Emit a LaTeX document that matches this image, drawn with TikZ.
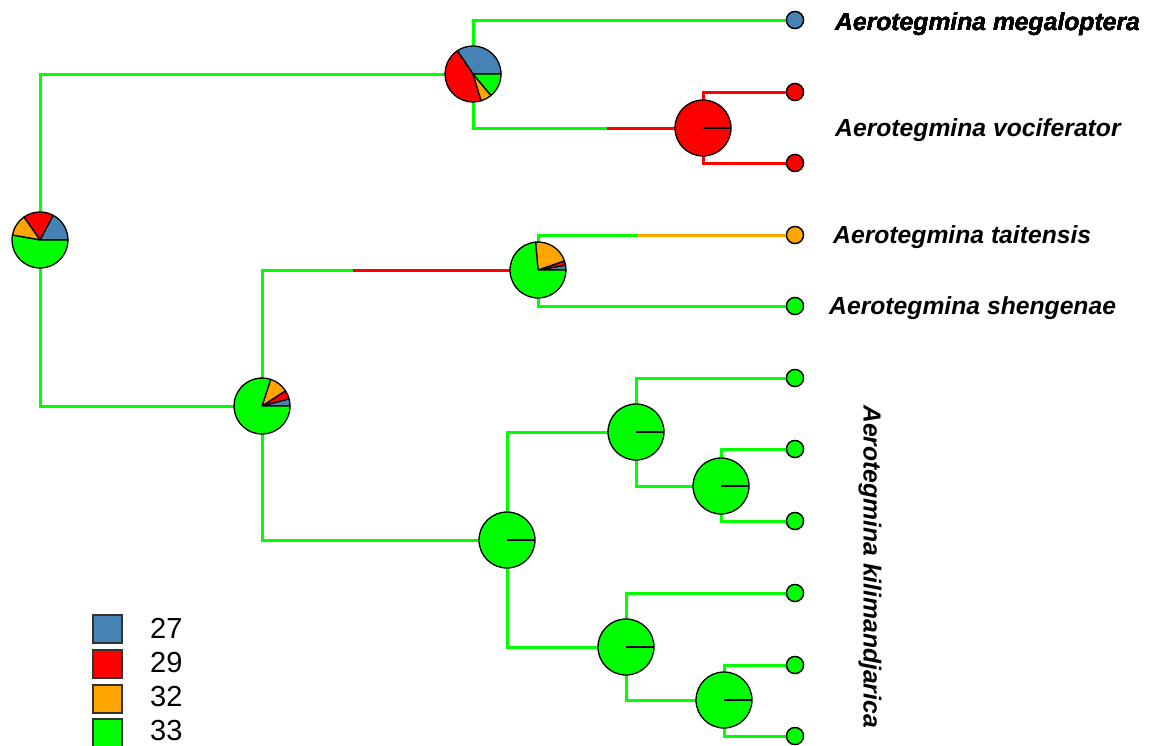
\documentclass[tikz,border=0pt]{standalone}
\usepackage{fontspec}
\setmainfont{Liberation Sans}
\definecolor{blu}{RGB}{70,130,180}
\definecolor{rosso}{RGB}{255,0,0}
\definecolor{arancio}{RGB}{255,165,0}
\definecolor{verde}{RGB}{0,255,0}
\tikzset{
  ramo/.style={line width=3pt},
  bordo/.style={draw=black,line width=1.3pt,line join=round},
  punta/.style={circle,draw=black,line width=1.3pt,minimum size=17pt,inner sep=0pt},
  etichetta/.style={font=\fontsize{24.7}{29}\selectfont\bfseries\itshape,inner sep=0pt},
  quadrato/.style={draw=black!80,line width=1.2pt,minimum width=29pt,minimum height=28pt,inner sep=0pt},
  numero/.style={font=\fontsize{29}{33}\selectfont,anchor=west,inner sep=0pt}
}
\def\raggio{28}
% spicchio: centro, inizio, fine, colore
\newcommand{\spicchio}[4]{%
  \filldraw[bordo,fill=#4] (#1) -- ++(#2:\raggio) arc[start angle=#2,end angle=#3,radius=\raggio] -- cycle;}
% torta: centro, fine blu, fine rosso, fine arancio
\newcommand{\torta}[4]{%
  \spicchio{#1}{0}{#2}{blu}
  \spicchio{#1}{#2}{#3}{rosso}
  \spicchio{#1}{#3}{#4}{arancio}
  \spicchio{#1}{#4}{360}{verde}}
% torta di un solo colore
\newcommand{\tortapiena}[2]{%
  \filldraw[bordo,fill=#2] (#1) circle[radius=\raggio];
  \draw[bordo] (#1) -- ++(0:\raggio);}
\begin{document}
\begin{tikzpicture}[x=1pt,y=1pt]
\useasboundingbox (0,0) rectangle (1155,-745);
%nodi interni
\coordinate (radice) at (40,-240);
\coordinate (nA) at (473,-74);
\coordinate (nV) at (703,-128);
\coordinate (nB) at (262,-406);
\coordinate (nT) at (538,-270);
\coordinate (nK) at (507,-540);
\coordinate (nK1) at (636,-432);
\coordinate (nK11) at (721,-486);
\coordinate (nK2) at (626,-647);
\coordinate (nK21) at (724,-700);
%cambi di colore
\coordinate (cV) at (607,-128);
\coordinate (cT) at (353,-270);
\coordinate (cTai) at (637,-235);
%foglie
\node[punta,fill=blu] (meg) at (795,-20) {};
\node[punta,fill=rosso] (voc1) at (795,-92) {};
\node[punta,fill=rosso] (voc2) at (795,-163) {};
\node[punta,fill=arancio] (tai) at (795,-235) {};
\node[punta,fill=verde] (she) at (795,-306) {};
\node[punta,fill=verde] (kil1) at (795,-378) {};
\node[punta,fill=verde] (kil2) at (795,-449) {};
\node[punta,fill=verde] (kil3) at (795,-521) {};
\node[punta,fill=verde] (kil4) at (795,-593) {};
\node[punta,fill=verde] (kil5) at (795,-665) {};
\node[punta,fill=verde] (kil6) at (795,-736) {};
%rami
\draw[ramo,verde] (radice) |- (nA);
\draw[ramo,verde] (radice) |- (nB);
\draw[ramo,verde] (nA) |- (meg);
\draw[ramo,verde] (nA) |- (cV);
\draw[ramo,rosso] (cV) -- (nV);
\draw[ramo,rosso] (nV) |- (voc1);
\draw[ramo,rosso] (nV) |- (voc2);
\draw[ramo,verde] (nB) |- (cT);
\draw[ramo,rosso] (cT) -- (nT);
\draw[ramo,verde] (nT) |- (cTai);
\draw[ramo,arancio] (cTai) -- (tai);
\draw[ramo,verde] (nT) |- (she);
\draw[ramo,verde] (nB) |- (nK);
\draw[ramo,verde] (nK) |- (nK1);
\draw[ramo,verde] (nK) |- (nK2);
\draw[ramo,verde] (nK1) |- (kil1);
\draw[ramo,verde] (nK1) |- (nK11);
\draw[ramo,verde] (nK11) |- (kil2);
\draw[ramo,verde] (nK11) |- (kil3);
\draw[ramo,verde] (nK2) |- (kil4);
\draw[ramo,verde] (nK2) |- (nK21);
\draw[ramo,verde] (nK21) |- (kil5);
\draw[ramo,verde] (nK21) |- (kil6);
%foglie sopra i rami
\foreach \f/\c in {meg/blu,voc1/rosso,voc2/rosso,tai/arancio,she/verde,kil1/verde,kil2/verde,kil3/verde,kil4/verde,kil5/verde,kil6/verde}
  \filldraw[bordo,fill=\c] (\f) circle[radius=8.5];
%torte
\torta{radice}{62}{125}{170}
\torta{nA}{124}{287}{310}
\torta{nT}{10}{19}{95}
\torta{nB}{15}{33}{72}
\tortapiena{nV}{rosso}
\foreach \n in {nK,nK1,nK11,nK2,nK21}
  \tortapiena{\n}{verde}
%nomi
\node[etichetta,anchor=west] (lmeg) at (835,-24) {Aerotegmina megaloptera};
\node[etichetta,anchor=west] (lvoc) at (835,-130) {Aerotegmina vociferator};
\node[etichetta,anchor=west] (ltai) at (833,-237) {Aerotegmina taitensis};
\node[etichetta,anchor=west] (lshe) at (829,-308) {Aerotegmina shengenae};
\node[etichetta,anchor=west,rotate=-90] (lkil) at (870,-405) {Aerotegmina kilimandjarica};
%legenda
\node[quadrato,fill=blu] (q27) at (107.5,-629) {};
\node[quadrato,fill=rosso] (q29) at (107.5,-664) {};
\node[quadrato,fill=arancio] (q32) at (107.5,-699) {};
\node[quadrato,fill=verde] (q33) at (107.5,-733) {};
\node[numero] at (150,-628) {27};
\node[numero] at (150,-663) {29};
\node[numero] at (150,-697) {32};
\node[numero] at (150,-731) {33};
\end{tikzpicture}
\end{document}
